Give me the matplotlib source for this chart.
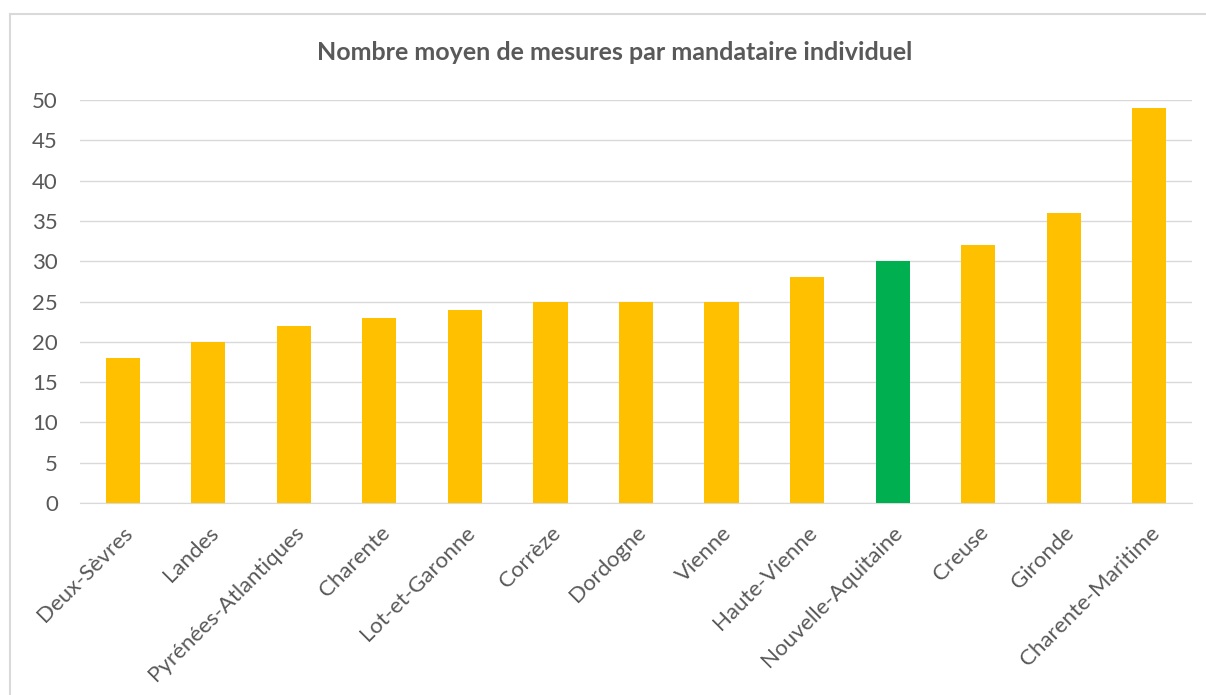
import matplotlib
matplotlib.use("Agg")
import matplotlib.pyplot as plt
from matplotlib.lines import Line2D

# Data
departements = ["Deux-Sèvres", "Landes", "Pyrénées-Atlantiques", "Charente",
                "Lot-et-Garonne", "Corrèze", "Dordogne", "Vienne", "Haute-Vienne",
                "Nouvelle-Aquitaine", "Creuse", "Gironde", "Charente-Maritime"]
mesures = [18, 20, 22, 23, 24, 25, 25, 25, 28, 30, 32, 36, 49]
highlight = "Nouvelle-Aquitaine"

plt.rcParams['font.family'] = ['Lato', 'DejaVu Sans']
text_color = "#595959"
grid_color = "#d9d9d9"

W, H = 1206, 695
fig = plt.figure(figsize=(W / 100, H / 100), dpi=100)
ax = fig.add_axes([80 / W, 1 - 503 / H, (1192 - 80) / W, (503 - 100) / H])

colors = ["#00b050" if d == highlight else "#ffc000" for d in departements]
x = list(range(len(departements)))
ax.bar(x, mesures, width=0.4, color=colors, zorder=3)

ax.set_xlim(-0.5, len(departements) - 0.5)
ax.set_ylim(0, 50)
ax.set_yticks(range(0, 51, 5))
ax.yaxis.grid(True, color=grid_color, linewidth=1, zorder=0)
for s in ["top", "right", "left"]:
    ax.spines[s].set_visible(False)
ax.spines["bottom"].set_color(grid_color)
ax.tick_params(axis="both", length=0, labelsize=16, labelcolor=text_color)
ax.tick_params(axis="y", pad=16)
ax.set_xticks(x)
ax.set_xticklabels(departements, rotation=45, ha="right", va="top",
                   rotation_mode="anchor")
ax.tick_params(axis="x", pad=14)

fig.text(615 / W, 1 - 52 / H, "Nombre moyen de mesures par mandataire individuel",
         ha="center", va="center", fontsize=18, fontweight="bold", color=text_color)

# chart frame
fig.add_artist(Line2D([10 / W, 10 / W], [0, 1 - 14 / H], color=grid_color,
                      linewidth=1.5, transform=fig.transFigure))
fig.add_artist(Line2D([10 / W, 1], [1 - 14 / H, 1 - 14 / H], color=grid_color,
                      linewidth=1.5, transform=fig.transFigure))

fig.savefig("out.png", dpi=100, facecolor="white")
